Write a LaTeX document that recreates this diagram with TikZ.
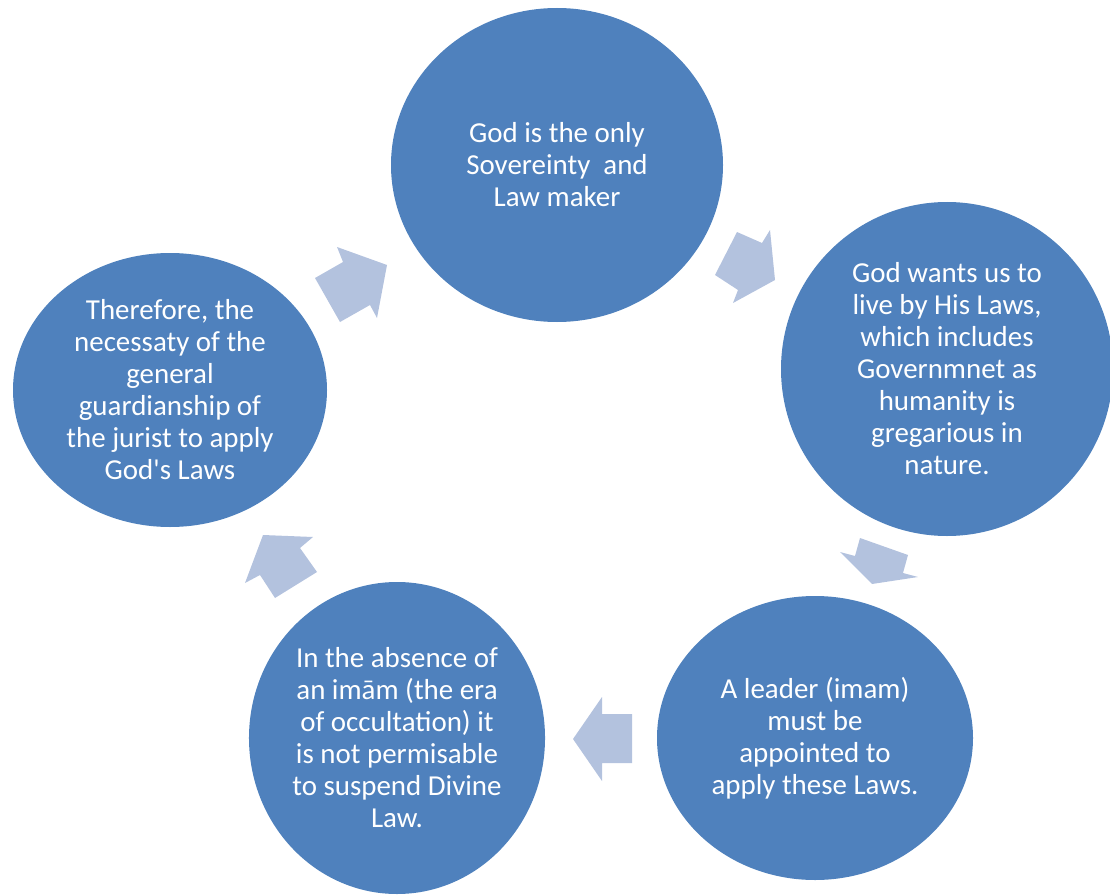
\documentclass[tikz,border=0pt]{standalone}
\usepackage{fontspec}
\setmainfont{Carlito}
\usetikzlibrary{shapes.geometric}
\definecolor{bubble}{HTML}{4F81BD}
\definecolor{arrowc}{HTML}{B3C2DE}
\begin{document}
\begin{tikzpicture}[x=0.75pt,y=-0.75pt,
  bub/.style={ellipse, fill=bubble, draw=none, inner sep=0pt, text=white,
    align=center, font=\fontsize{21.7}{24}\selectfont},
  blk/.style={fill=arrowc, draw=none}]
\useasboundingbox (0,0) rectangle (1110,895);
\node[bub, minimum width=249pt, minimum height=235.5pt] (sov) at (557,165)
  {God is the only\\Sovereinty\ \ and\\Law maker};
\node[bub, minimum width=249pt, minimum height=250.5pt] (laws) at (947,369)
  {God wants us to\\live by His Laws,\\which includes\\Governmnet as\\humanity is\\gregarious in\\nature.};
\node[bub, minimum width=237pt, minimum height=213pt] (imam) at (815,738)
  {A leader (imam)\\must be\\appointed to\\apply these Laws.};
\node[bub, minimum width=222pt, minimum height=234pt] (absence) at (397,738)
  {In the absence of\\an imām (the era\\of occultation) it\\is not permisable\\to suspend Divine\\Law.};
\node[bub, minimum width=235.5pt, minimum height=205.5pt] (jurist) at (170,390)
  {Therefore, the\\necessaty of the\\general\\guardianship of\\the jurist to apply\\God\textquotesingle s Laws};
% block arrows
\fill[blk] (315,278) -- (343,262) -- (337,247) -- (387,265) -- (377,318) -- (370,305) -- (340,322) -- cycle;
\fill[blk] (737,232) -- (762,243) -- (770,230) -- (775,280) -- (733,303) -- (738,290) -- (715,275) -- cycle;
\fill[blk] (860,538) -- (908,555) -- (903,573) -- (918,577) -- (872,584) -- (840,552) -- (855,556) -- cycle;
\fill[blk] (573,739) -- (602,697) -- (602,714) -- (632,714) -- (632,763) -- (602,763) -- (602,781) -- cycle;
\fill[blk] (263,535) -- (313,537) -- (300,548) -- (317,572) -- (275,598) -- (260,575) -- (245,583) -- cycle;
\end{tikzpicture}
\end{document}
